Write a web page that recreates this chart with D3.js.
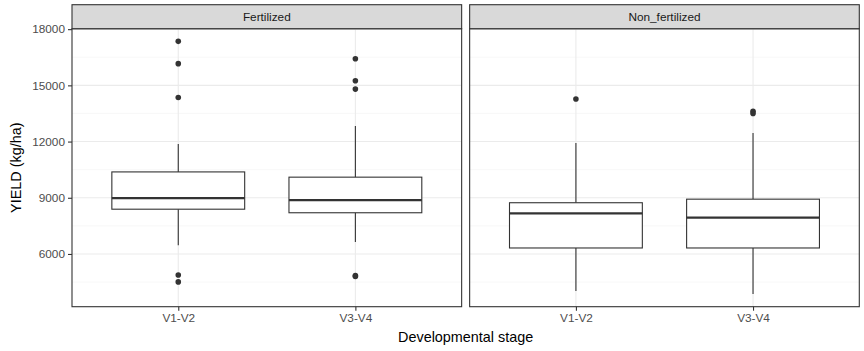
<!DOCTYPE html>
<html lang="en">
<head>
<meta charset="UTF-8">
<script src="https://d3js.org/d3.v7.min.js"></script>
<style>
  body { margin: 0; background: #fff; }
  text { font-family: "Liberation Sans", Arial, Helvetica, sans-serif; }
</style>
</head>
<body>
<div id="chart"></div>
<script>
// facets and categories
const facets = ["Fertilized", "Non_fertilized"];
const stages = ["V1-V2", "V3-V4"];

// box stats: [lower whisker, Q1, median, Q3, upper whisker]
const fertilizedStats = [
  [6460, 8390, 8980, 10380, 11870],
  [6640, 8200, 8870, 10100, 12830]
];
const nonFertilizedStats = [
  [4030, 6320, 8165, 8735, 11925],
  [3860, 6320, 7935, 8925, 12460]
];
// outliers
const fertilizedOutliers = [
  [17350, 16160, 14350, 4880, 4510],
  [16420, 15250, 14800, 4850, 4800]
];
const nonFertilizedOutliers = [
  [14270],
  [13620, 13500]
];
const yTicks = [6000, 9000, 12000, 15000, 18000];
const yMinor = [4500, 7500, 10500, 13500, 16500];

const W = 864, H = 351;
const margin = {top: 28.7, left: 72, bottom: 44.3, right: 4.7};
const gap = 8;
const stripH = 24;
const panelW = (W - margin.left - margin.right - gap) / 2;
const panelH = H - margin.top - margin.bottom;

const svg = d3.select("#chart").append("svg")
  .attr("width", W).attr("height", H);

// shared y scale with ggplot style 5% expansion
const allVals = [fertilizedStats, nonFertilizedStats, fertilizedOutliers, nonFertilizedOutliers].flat(2);
const [lo, hi] = d3.extent(allVals);
const pad = (hi - lo) * 0.05;
const y = d3.scaleLinear().domain([lo - pad, hi + pad]).range([panelH, 0]);

// discrete x with 0.6 expansion
const x = d3.scalePoint().domain(stages).range([0, panelW]).padding(0.6);
const boxW = x.step() * 0.75;

const panels = [
  {name: facets[0], stats: fertilizedStats, out: fertilizedOutliers},
  {name: facets[1], stats: nonFertilizedStats, out: nonFertilizedOutliers}
];

const dark = "#333333";

panels.forEach((p, i) => {
  const px = margin.left + i * (panelW + gap);
  const g = svg.append("g").attr("transform", `translate(${px},${margin.top})`);

  // grid
  g.selectAll(".minor").data(yMinor.filter(v => y(v) >= 0 && y(v) <= panelH)).join("line")
    .attr("x1", 0).attr("x2", panelW)
    .attr("y1", d => y(d)).attr("y2", d => y(d))
    .attr("stroke", "#f4f4f4").attr("stroke-width", 0.6);
  g.selectAll(".major").data(yTicks).join("line")
    .attr("x1", 0).attr("x2", panelW)
    .attr("y1", d => y(d)).attr("y2", d => y(d))
    .attr("stroke", "#ebebeb").attr("stroke-width", 1.1);
  g.selectAll(".vmajor").data(stages).join("line")
    .attr("x1", d => x(d)).attr("x2", d => x(d))
    .attr("y1", 0).attr("y2", panelH)
    .attr("stroke", "#ebebeb").attr("stroke-width", 1.1);

  // boxes
  stages.forEach((s, j) => {
    const [w0, q1, med, q3, w1] = p.stats[j];
    const cx = x(s);
    g.append("line").attr("x1", cx).attr("x2", cx).attr("y1", y(q3)).attr("y2", y(w1))
      .attr("stroke", dark).attr("stroke-width", 1.1);
    g.append("line").attr("x1", cx).attr("x2", cx).attr("y1", y(q1)).attr("y2", y(w0))
      .attr("stroke", dark).attr("stroke-width", 1.1);
    g.append("rect").attr("x", cx - boxW / 2).attr("width", boxW)
      .attr("y", y(q3)).attr("height", y(q1) - y(q3))
      .attr("fill", "#fff").attr("stroke", dark).attr("stroke-width", 1.1);
    g.append("line").attr("x1", cx - boxW / 2).attr("x2", cx + boxW / 2)
      .attr("y1", y(med)).attr("y2", y(med))
      .attr("stroke", dark).attr("stroke-width", 2.3);
    g.selectAll(null).data(p.out[j]).join("circle")
      .attr("cx", cx).attr("cy", d => y(d)).attr("r", 2.8)
      .attr("fill", dark);
  });

  // panel border
  g.append("rect").attr("width", panelW).attr("height", panelH)
    .attr("fill", "none").attr("stroke", dark).attr("stroke-width", 1.1);

  // strip
  g.append("rect").attr("y", -stripH).attr("width", panelW).attr("height", stripH)
    .attr("fill", "#d9d9d9").attr("stroke", dark).attr("stroke-width", 1.1);
  g.append("text").attr("x", panelW / 2).attr("y", -stripH / 2)
    .attr("text-anchor", "middle").attr("dominant-baseline", "central")
    .attr("font-size", 11.8).attr("fill", "#1a1a1a").text(p.name);

  // x axis
  const xa = g.append("g").attr("transform", `translate(0,${panelH})`)
    .call(d3.axisBottom(x).tickSize(4).tickPadding(3));
  xa.select(".domain").remove();
  xa.selectAll("line").attr("stroke", dark).attr("stroke-width", 1.1);
  xa.selectAll("text").attr("font-size", 11.8).attr("fill", "#4d4d4d")
    .style("font-family", "'Liberation Sans', Arial, sans-serif");

  // y axis on first panel only
  if (i === 0) {
    const ya = g.append("g")
      .call(d3.axisLeft(y).tickValues(yTicks).tickFormat(d3.format("d")).tickSize(4).tickPadding(3));
    ya.select(".domain").remove();
    ya.selectAll("line").attr("stroke", dark).attr("stroke-width", 1.1);
    ya.selectAll("text").attr("font-size", 11.8).attr("fill", "#4d4d4d")
      .style("font-family", "'Liberation Sans', Arial, sans-serif");
  }
});

// axis titles
svg.append("text")
  .attr("x", margin.left + (W - margin.left - margin.right) / 2).attr("y", 342)
  .attr("text-anchor", "middle").attr("font-size", 14.4).attr("fill", "#000")
  .text("Developmental stage");
svg.append("text")
  .attr("transform", `translate(21,${margin.top + panelH / 2}) rotate(-90)`)
  .attr("text-anchor", "middle").attr("font-size", 14.4).attr("fill", "#000")
  .text("YIELD (kg/ha)");
</script>
</body>
</html>
